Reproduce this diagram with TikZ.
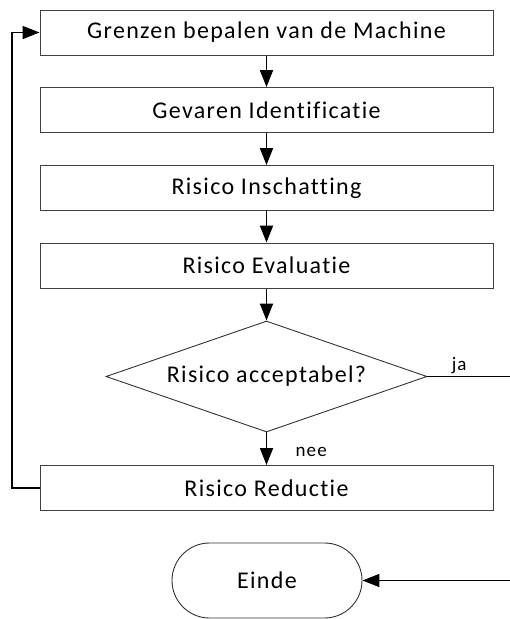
\documentclass[tikz,border=0pt]{standalone}
\usepackage{fontspec}
\setmainfont[Ligatures={NoCommon},LetterSpace=5.5]{Carlito}
\usetikzlibrary{arrows.meta,shapes.geometric,shapes.misc}
\begin{document}
\begin{tikzpicture}[x=1pt,y=-1pt,
  every node/.style={font=\fontsize{24}{27}\selectfont},
  stepbox/.style={draw=black!75,line width=1pt,rectangle,minimum width=453pt,minimum height=45pt,inner sep=0pt},
  decision/.style={draw=black!80,line width=0.9pt,diamond,aspect=2.9,minimum width=321pt,minimum height=111pt,inner sep=0pt},
  terminal/.style={draw=black!80,line width=0.9pt,rounded rectangle,minimum width=190pt,minimum height=75pt,inner sep=0pt},
  flow/.style={line width=1.8pt,-{Triangle[length=17pt,width=13pt]}},
  plain/.style={line width=1.8pt},
  lbl/.style={font=\fontsize{19}{21}\selectfont}
]
\useasboundingbox (0,0) rectangle (510,619);
\clip (0,0) rectangle (510,619);

\node[stepbox] (grenzen)   at (266.5,32.5) {Grenzen bepalen van de Machine};
\node[stepbox] (gevaren)   at (266.5,110)  {Gevaren Identificatie};
\node[stepbox] (inschat)   at (266.5,188)  {Risico Inschatting};
\node[stepbox] (evaluatie) at (266.5,265.5){Risico Evaluatie};
\node[decision] (accept)   at (266.5,376.5){Risico acceptabel?};
\node[stepbox] (reductie)  at (266.5,488)  {Risico Reductie};
\node[terminal] (einde)    at (267,580.5)  {Einde};

\coordinate (loopx) at (12,0);
\coordinate (jaout) at (530,376.5);
\coordinate (jain)  at (530,580.5);

\draw[flow] (grenzen) -- (gevaren);
\draw[flow] (gevaren) -- (inschat);
\draw[flow] (inschat) -- (evaluatie);
\draw[flow] (evaluatie) -- (accept);
\draw[flow] (accept) -- node[lbl,right,xshift=25pt,yshift=-3pt]{nee} (reductie);
\draw[flow] (reductie.west) -| (loopx |- grenzen.west) -- (grenzen.west);
\draw[plain] (accept.east) -- node[lbl,above,pos=0.31,yshift=-1pt]{ja} (jaout);
\draw[flow] (jain) -- (einde.east);
\end{tikzpicture}
\end{document}
